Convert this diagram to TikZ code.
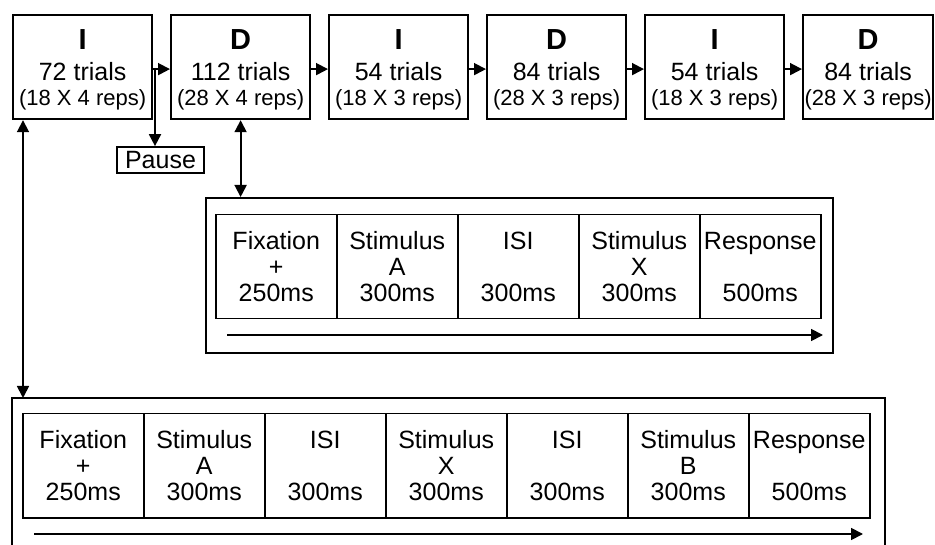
\documentclass[tikz,border=0pt]{standalone}
\usepackage{fontspec}
\setmainfont{Liberation Sans}
\usetikzlibrary{arrows.meta}
\begin{document}
\begin{tikzpicture}[x=1pt,y=-1pt,
  tbox/.style={draw,line width=2.2pt,minimum width=139pt,minimum height=104pt,inner sep=0pt,anchor=north west},
  cell/.style={draw,line width=1.5pt,minimum width=121pt,minimum height=104pt,inner sep=0pt,anchor=north west,align=center,font=\fontsize{25}{26}\selectfont},
  frame/.style={draw,line width=2.4pt,inner sep=0pt,anchor=north west},
  conn/.style={line width=1.8pt,-{Triangle[length=12pt,width=12pt]}},
  dconn/.style={line width=1.8pt,{Triangle[length=12pt,width=12pt]}-{Triangle[length=12pt,width=12pt]}},
  bigtxt/.style={font=\fontsize{29}{30}\selectfont\bfseries,anchor=base,inner sep=0pt},
  midtxt/.style={font=\fontsize{25}{26}\selectfont,anchor=base,inner sep=0pt},
  smalltxt/.style={font=\fontsize{22}{24}\selectfont,anchor=base,inner sep=0pt}]
\useasboundingbox (0,0) rectangle (935,545);
% top blocks
\node[tbox] (b1) at (12,14) {};
\node[tbox] (b2) at (170,14) {};
\node[tbox] (b3) at (328,14) {};
\node[tbox] (b4) at (486,14) {};
\node[tbox] (b5) at (644,14) {};
\node[tbox,minimum width=130pt] (b6) at (802,14) {};
\node[bigtxt] (b1L) at ([yshift=-36pt]b1.north) {I};
\node[midtxt] (b1N) at ([yshift=-67pt]b1.north) {72 trials};
\node[smalltxt] (b1R) at ([yshift=-92pt]b1.north) {(18 X 4 reps)};
\node[bigtxt] (b2L) at ([yshift=-36pt]b2.north) {D};
\node[midtxt] (b2N) at ([yshift=-67pt]b2.north) {112 trials};
\node[smalltxt] (b2R) at ([yshift=-92pt]b2.north) {(28 X 4 reps)};
\node[bigtxt] (b3L) at ([yshift=-36pt]b3.north) {I};
\node[midtxt] (b3N) at ([yshift=-67pt]b3.north) {54 trials};
\node[smalltxt] (b3R) at ([yshift=-92pt]b3.north) {(18 X 3 reps)};
\node[bigtxt] (b4L) at ([yshift=-36pt]b4.north) {D};
\node[midtxt] (b4N) at ([yshift=-67pt]b4.north) {84 trials};
\node[smalltxt] (b4R) at ([yshift=-92pt]b4.north) {(28 X 3 reps)};
\node[bigtxt] (b5L) at ([yshift=-36pt]b5.north) {I};
\node[midtxt] (b5N) at ([yshift=-67pt]b5.north) {54 trials};
\node[smalltxt] (b5R) at ([yshift=-92pt]b5.north) {(18 X 3 reps)};
\node[bigtxt] (b6L) at ([yshift=-36pt]b6.north) {D};
\node[midtxt] (b6N) at ([yshift=-67pt]b6.north) {84 trials};
\node[smalltxt] (b6R) at ([yshift=-92pt]b6.north) {(28 X 3 reps)};
\draw[conn] ([yshift=-2pt]b1.east) -- ([yshift=-2pt]b2.west);
\draw[conn] ([yshift=-2pt]b2.east) -- ([yshift=-2pt]b3.west);
\draw[conn] ([yshift=-2pt]b3.east) -- ([yshift=-2pt]b4.west);
\draw[conn] ([yshift=-2pt]b4.east) -- ([yshift=-2pt]b5.west);
\draw[conn] ([yshift=-2pt]b5.east) -- ([yshift=-2pt]b6.west);
% pause
\coordinate (pj) at (155,68);
\node[draw,line width=1.7pt,minimum width=87pt,minimum height=26pt,inner sep=0pt,font=\fontsize{25}{26}\selectfont] (pause) at (160.5,160) {Pause};
\draw[conn] (pj) -- (pause.north -| pj);
% middle frame
\node[frame,minimum width=627pt,minimum height=155pt] (mf) at (205,197) {};
\draw[dconn] (b2.south) -- (b2.south |- mf.north);
\node[cell] (m1) at (215,214) {Fixation\\+\\250ms};
\node[cell] (m2) at (336,214) {Stimulus\\A\\300ms};
\node[cell] (m3) at (457,214) {ISI\\\phantom{+}\\300ms};
\node[cell] (m4) at (578,214) {Stimulus\\X\\300ms};
\node[cell] (m5) at (699,214) {Response\\\phantom{+}\\500ms};
\coordinate (ms) at (227,335);
\coordinate (me) at (823,335);
\draw[conn] (ms) -- (me);
% bottom frame
\coordinate (bfl) at (12,550);
\coordinate (bftop) at (23,398);
\coordinate (bfr) at (885,550);
\draw[line width=2.4pt] (bfl) |- (bfr |- bftop) -- (bfr);
\draw[dconn] (b1.south -| bftop) -- (bftop);
\node[cell] (c1) at (22,413) {Fixation\\+\\250ms};
\node[cell] (c2) at (143,413) {Stimulus\\A\\300ms};
\node[cell] (c3) at (264,413) {ISI\\\phantom{+}\\300ms};
\node[cell] (c4) at (385,413) {Stimulus\\X\\300ms};
\node[cell] (c5) at (506,413) {ISI\\\phantom{+}\\300ms};
\node[cell] (c6) at (627,413) {Stimulus\\B\\300ms};
\node[cell] (c7) at (748,413) {Response\\\phantom{+}\\500ms};
\coordinate (bs) at (34,534);
\coordinate (be) at (863,534);
\draw[conn] (bs) -- (be);
\end{tikzpicture}
\end{document}
